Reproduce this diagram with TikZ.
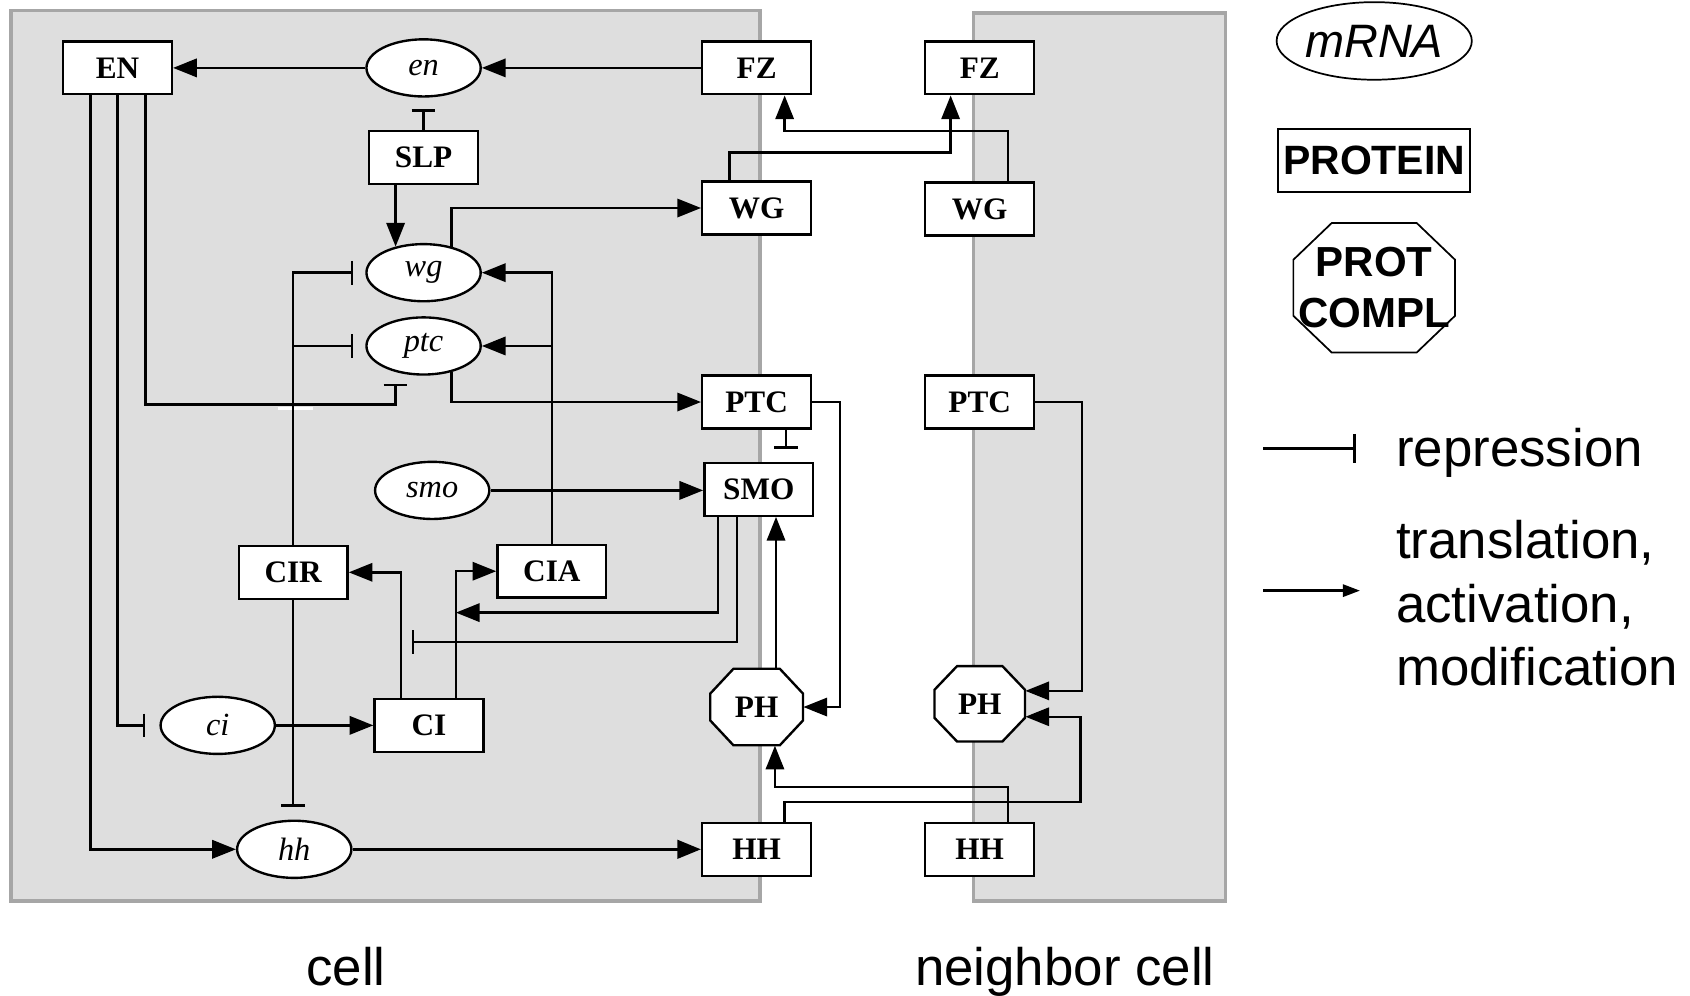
\documentclass[tikz,border=0pt]{standalone}
\usepackage{fontspec}
\setmainfont{Liberation Serif}
\newfontfamily\arialfam{Liberation Sans}
\usetikzlibrary{arrows.meta,calc,shapes.geometric}
\definecolor{cellfill}{RGB}{222,222,222}
\definecolor{cellline}{RGB}{166,166,166}
\newcommand{\drawocto}[5]{%
  \draw[line width=1.1pt,fill=white] ($(#1)+(-#2+#4,-#3)$) -- ($(#1)+(#2-#4,-#3)$) -- ($(#1)+(#2,-#3+#5)$) -- ($(#1)+(#2,#3-#5)$) -- ($(#1)+(#2-#4,#3)$) -- ($(#1)+(-#2+#4,#3)$) -- ($(#1)+(-#2,#3-#5)$) -- ($(#1)+(-#2,-#3+#5)$) -- cycle;}
\begin{document}
\begin{tikzpicture}[x=0.5pt,y=-0.5pt,
  prot/.style={draw,line width=1.1pt,fill=white,rectangle,minimum width=50.5pt,minimum height=24.5pt,inner sep=0pt,font=\fontsize{14.5}{16}\selectfont\bfseries},
  mrna/.style={draw,line width=1.1pt,fill=white,ellipse,minimum width=53pt,minimum height=26.5pt,inner sep=0pt,font=\fontsize{15}{17}\selectfont\itshape},
  cplx/.style={rectangle,inner sep=0pt,font=\fontsize{14.5}{16}\selectfont\bfseries},
  act/.style={line width=1.1pt,-{Triangle[length=11pt,width=8.5pt]}},
  rep/.style={line width=1.1pt,-{Bar[width=11pt,line width=1.1pt]},shorten >=5.5pt},
  cell/.style={fill=cellfill,draw=cellline,line width=1.6pt},
  lgtext/.style={anchor=base west,inner sep=0pt,font=\arialfam\fontsize{24.5}{29.5}\selectfont},
  celllabel/.style={anchor=base,inner sep=0pt,font=\arialfam\fontsize{24.5}{29.5}\selectfont},
]
\useasboundingbox (0,0) rectangle (1568,924);

% cells
\draw[cell] (10,10) rectangle (705,836);
\draw[cell] (903,12) rectangle (1137,836);

% octagon backgrounds
\coordinate (ph1c) at (702,656);
\coordinate (ph2c) at (909,653);
\coordinate (lgcc) at (1275,267);
\drawocto{ph1c}{43}{35.5}{21.5}{23}
\drawocto{ph2c}{42}{35}{21}{22}

% nodes
\node[prot] (EN) at (109,63) {EN};
\node[mrna] (en) at (393,63) {en};
\node[prot] (fz1) at (702,63) {FZ};
\node[prot] (fz2) at (909,63) {FZ};
\node[prot] (slp) at (393,146) {SLP};
\node[prot] (wg1) at (702,193) {WG};
\node[prot] (wg2) at (909,194) {WG};
\node[mrna] (wg) at (393,253) {wg};
\node[mrna] (ptc) at (393,321) {ptc};
\node[prot] (ptc1) at (702,373) {PTC};
\node[prot] (ptc2) at (909,373) {PTC};
\node[mrna] (smo) at (401,455) {smo};
\node[prot] (smo1) at (704,454) {SMO};
\node[prot] (cir) at (272,531) {CIR};
\node[prot] (cia) at (512,530) {CIA};
\node[prot] (ci1) at (398,673) {CI};
\node[mrna] (ci) at (202,673) {ci};
\node[mrna] (hh) at (273,788) {hh};
\node[prot] (hh1) at (702,788) {HH};
\node[prot] (hh2) at (909,788) {HH};
\node[cplx,minimum width=43pt,minimum height=35.5pt] (ph1) at (ph1c) {PH};
\node[cplx,minimum width=42pt,minimum height=35pt] (ph2) at (ph2c) {PH};

% helper points
\coordinate (ptcbot) at ($(ptc1.south)+(27,0)$);
\coordinate (phtop) at ($(ph1.north)+(18,0)$);
\coordinate (actpt) at ($(ci1.north)+(25,-79)$);
\coordinate (reppt) at ($(ci1.north)+(-26,-52)$);

% connectors
\draw[act] (en.west) -- (EN.east);
\draw[act] (fz1.west) -- (en.east);
\draw[rep] (slp.north) -- (en.south);
\draw[act] (slp.south -| wg.137) -- (wg.137);
\draw[act] (wg.43) |- (wg1.west);
\draw[act] (ptc.-43) |- (ptc1.west);
\draw[rep] ($(EN.south)+(26,0)$) |- ($(ptc.-137)+(0,30)$) -- (ptc.-137);
\draw[white,line width=1pt] (258,379) -- (290,379);
\draw[rep,shorten >=6.5pt] (EN.south) |- (ci.west);
\draw[act] ($(EN.south)+(-25,0)$) |- (hh.west);
\draw[rep] (cir.north) |- (wg.west);
\draw[rep] (cir.north |- ptc.west) -- (ptc.west);
\draw[rep,shorten >=6pt] (cir.south) -- (cir.south |- hh.north);
\draw[act] (cia.north) |- (wg.east);
\draw[act] (cia.north |- ptc.east) -- (ptc.east);
\draw[act] (smo.east) -- (smo.east -| smo1.west);
\draw[act] (ci.east) -- (ci1.west);
\draw[act] ($(ci1.north)+(-26,0)$) |- (cir.east);
\draw[act] ($(ci1.north)+(25,0)$) |- (cia.west);
\draw[act] ($(smo1.south)+(-38,0)$) |- (actpt);
\draw[rep,shorten >=5pt] ($(smo1.south)+(-20,0)$) |- (reppt);
\draw[rep,shorten >=6pt] (ptcbot) -- (ptcbot |- smo1.north);
\draw[act] (ptc1.east) -- ++(26,0) |- (ph1.east);
\draw[act] (phtop) -- (phtop |- smo1.south);
\draw[act] ($(hh2.north)+(26,0)$) |- ($(ph1.south)+(17,38)$) -- ($(ph1.south)+(17,0)$);
\draw[act] ($(hh1.north)+(26,0)$) |- ($(ph2.east)+(51,91)$) |- ($(ph2.east)+(0,12)$);
\draw[act] (ptc2.east) -- ++(43,0) |- ($(ph2.east)+(0,-12)$);
\draw[act] ($(wg1.north)+(-25,0)$) |- ($(fz2.south)+(-27,53)$) -- ($(fz2.south)+(-27,0)$);
\draw[act] ($(wg2.north)+(26,0)$) |- ($(fz1.south)+(26,33)$) -- ($(fz1.south)+(26,0)$);
\draw[act,line width=1.6pt] (hh.east) -- (hh1.west);

% legend
\node[draw,line width=0.8pt,ellipse,minimum width=89pt,minimum height=36pt,inner sep=0pt,font=\arialfam\itshape\fontsize{21.75}{24}\selectfont] (lgm) at (1275,38) {mRNA};
\node[draw,line width=0.8pt,rectangle,minimum width=89pt,minimum height=29pt,inner sep=0pt,font=\arialfam\bfseries\fontsize{19}{22}\selectfont] (lgp) at (1275,149) {PROTEIN};
\draw[line width=0.8pt,fill=white] ($(lgcc)+(-39.5,-60)$) -- ($(lgcc)+(39.5,-60)$) -- ($(lgcc)+(75,-26)$) -- ($(lgcc)+(75,26)$) -- ($(lgcc)+(39.5,60)$) -- ($(lgcc)+(-39.5,60)$) -- ($(lgcc)+(-75,26)$) -- ($(lgcc)+(-75,-26)$) -- cycle;
\node[align=center,inner sep=0pt,font=\arialfam\bfseries\fontsize{19.5}{23.5}\selectfont] (lgc) at (lgcc) {PROT\\COMPL};
\coordinate (r1) at (1172,416);
\coordinate (r2) at (1258,416);
\draw[line width=1.5pt,-{Bar[width=13.5pt,line width=1.5pt]}] (r1) -- (r2);
\node[lgtext] (lrep) at (1295,433) {repression};
\coordinate (a1) at (1172,548);
\coordinate (a2) at (1262,548);
\draw[line width=1.5pt,-{Triangle[length=8pt,width=5.5pt]}] (a1) -- (a2);
\node[lgtext] (lt1) at (1295,518) {translation,};
\node[lgtext] (lt2) at (1295,578) {activation,};
\node[lgtext] (lt3) at (1295,636) {modification};

\node[celllabel] (lcell) at (321,914) {cell};
\node[celllabel] (lncell) at (988,914) {neighbor cell};
\end{tikzpicture}
\end{document}
